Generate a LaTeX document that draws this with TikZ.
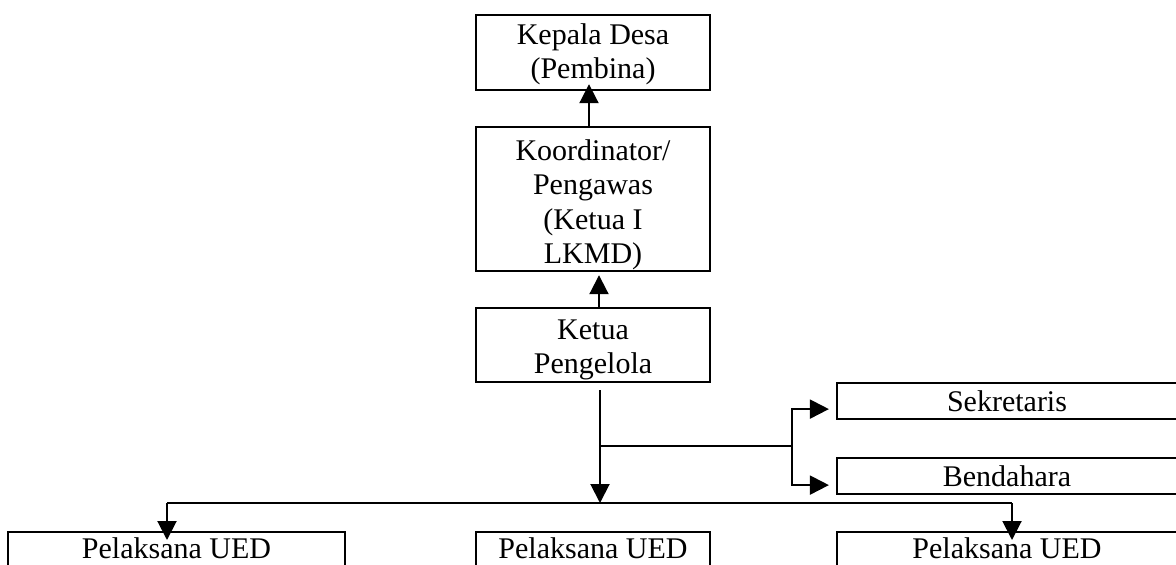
\documentclass[tikz,border=0pt]{standalone}
\usepackage{fontspec}
\setmainfont{Liberation Serif}
\usetikzlibrary{arrows.meta}
% invisible struts fixing the space above the first and below the last line
\newcommand\headroom[1]{\rule{0pt}{#1}}
\newcommand\footroom[1]{\rule[-#1]{0pt}{#1}}
\tikzset{
  unit/.style={draw, line width=2.2pt, inner xsep=0pt, inner ysep=0pt,
    anchor=north, align=center, font=\fontsize{30pt}{34.5pt}\selectfont},
  link/.style={line width=2pt},
  thinlink/.style={line width=1.4pt},
  arr/.style={link, -{Triangle[length=19pt,width=19pt]}},
}
\begin{document}
\begin{tikzpicture}[x=1pt,y=-1pt]
\useasboundingbox (0,0) rectangle (1176,565);
\clip (0,0) rectangle (1176,565);

% boxes
\node[unit, minimum width=234pt] (kepala) at (593,14) {\headroom{29pt}Kepala Desa\\(Pembina)\footroom{11.5pt}};
\node[unit, minimum width=234pt] (koord) at (593,126) {\headroom{33pt}Koordinator/\\Pengawas\\(Ketua I\\LKMD)\footroom{7.5pt}};
\node[unit, minimum width=234pt] (ketua) at (593,307) {\headroom{31pt}Ketua\\Pengelola\footroom{8.5pt}};
\node[unit, minimum width=340pt] (sek) at (1007,382) {\headroom{28pt}Sekretaris\footroom{8pt}};
\node[unit, minimum width=340pt] (bend) at (1007,457) {\headroom{28pt}Bendahara\footroom{8pt}};
\node[unit, minimum width=337pt] (ued1) at (176.5,531) {\headroom{26pt}Pelaksana UED\footroom{40pt}};
\node[unit, minimum width=234pt] (ued2) at (593,531) {\headroom{26pt}Pelaksana UED\footroom{40pt}};
\node[unit, minimum width=340pt] (ued3) at (1007,531) {\headroom{26pt}Pelaksana UED\footroom{40pt}};

% junction points
\coordinate (split) at (600,446);
\coordinate (staff) at (792,446);
\coordinate (bus) at (600,503);
\coordinate (busL) at (167,503);
\coordinate (busR) at (1012,503);

% upward chain
\draw[arr] ([xshift=-4pt]koord.north) -- ([xshift=-4pt,yshift=7pt]kepala.south);
\draw[arr] ([xshift=6pt]ketua.north) -- ([xshift=6pt,yshift=-3pt]koord.south);

% trunk and staff branch
\draw[arr] ([xshift=7pt,yshift=-7pt]ketua.south) -- (bus);
\draw[thinlink] (split) -- (staff);
\draw[arr] (staff) |- ([xshift=-7pt,yshift=-8pt]sek.west);
\draw[arr] (staff) |- ([xshift=-7pt,yshift=-9pt]bend.west);

% executor bus
\draw[link] (busL) -- (busR);
\draw[arr] (busL) -- ([yshift=-9pt]ued1.north -| busL);
\draw[arr] (busR) -- ([yshift=-9pt]ued3.north -| busR);
\end{tikzpicture}
\end{document}
